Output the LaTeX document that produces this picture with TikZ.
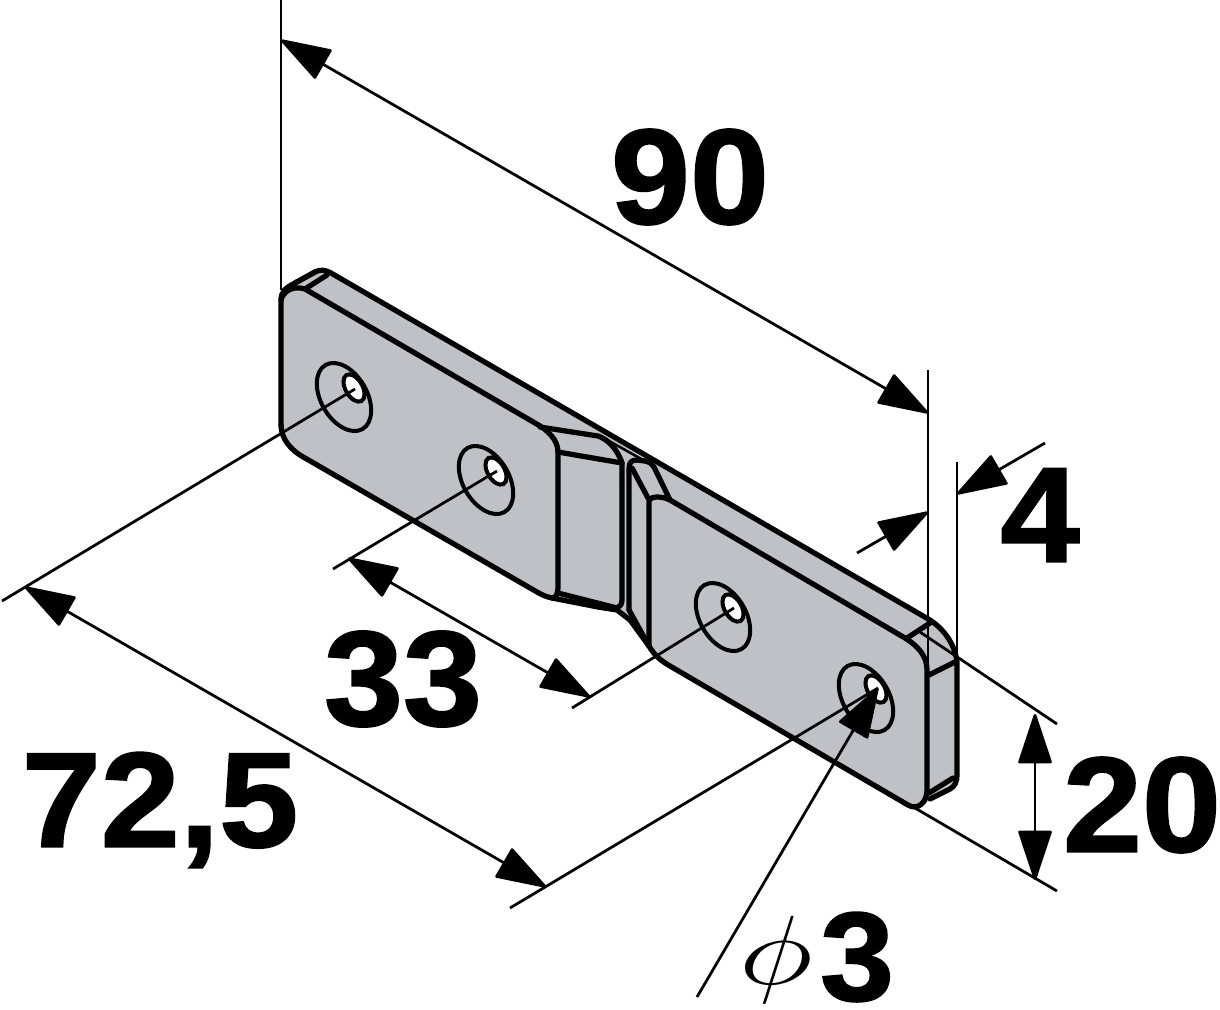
\documentclass[tikz,border=0pt]{standalone}
\usepackage{fontspec}
\setmainfont{Liberation Sans}[BoldFeatures={FakeBold=1.4}]
\usetikzlibrary{arrows.meta}
\definecolor{platefill}{RGB}{190,193,198}
\tikzset{>={Triangle[length=1.05cm,width=0.68cm,round]}}
\tikzset{
  partline/.style={line width=0.105cm,line join=round,line cap=round},
  holeline/.style={line width=0.08cm},
  dimline/.style={line width=0.055cm},
  dimlabel/.style={font=\fontsize{77}{77}\selectfont\bfseries,inner sep=0pt,xscale=1.05},
  holeouter/.style={x radius=0.74cm,y radius=0.46cm,rotate=-60},
  holeinner/.style={x radius=0.3cm,y radius=0.17cm,rotate=-60},
}

\begin{document}
\begin{tikzpicture}[x=0.02cm,y=-0.02cm]
        \useasboundingbox (0,0) rectangle (1220,1009);
        % body
        \fill[platefill] (281,300) .. controls (281,292) and (285,288) .. (295,283) -- (315,272)
          .. controls (320,269) and (326,270) .. (331,273) -- (930,620)
          .. controls (945,630) and (955,645) .. (957,662) -- (957,775)
          .. controls (957,782) and (955,786) .. (950,789) -- (930,799)
          .. controls (925,806) and (918,809) .. (910,806) -- (670,666)
          .. controls (660,660) and (655,656) .. (650,648) -- (630,620) -- (617,610) -- (598,607) -- (552,598)
          .. controls (547,597) and (542,595) .. (537,592) -- (305,458)
          .. controls (290,450) and (281,438) .. (281,425) -- cycle;
        % outer edges
        \draw[partline] (281,425) -- (281,300) .. controls (281,292) and (285,288) .. (295,283) -- (315,272)
          .. controls (320,269) and (326,270) .. (331,273) -- (930,620)
          .. controls (945,630) and (955,645) .. (957,662) -- (957,775)
          .. controls (957,782) and (955,786) .. (950,789) -- (930,799);
        % left plate
        \draw[partline] (281,300) .. controls (283,292) and (292,285) .. (305,289) -- (535,423)
          .. controls (548,430) and (558,440) .. (558,452) -- (558,586)
          .. controls (558,594) and (556,598) .. (552,598)
          .. controls (547,597) and (542,595) .. (537,592) -- (305,458)
          .. controls (290,450) and (281,438) .. (281,425);
        \draw[partline] (295,283) -- (315,272);
        \draw[partline] (305,289) -- (327,275);
        % right plate
        \draw[partline] (649,500) .. controls (652,496) and (662,496) .. (670,500) -- (905,638)
          .. controls (918,646) and (927,656) .. (927,670) -- (927,790)
          .. controls (927,802) and (918,811) .. (908,805) -- (670,666)
          .. controls (660,660) and (655,656) .. (649,646) -- cycle;
        \draw[partline] (907,638) -- (930,623);
        \draw[partline] (929,675) -- (955,662);
        \draw[partline] (929,793) -- (953,778);
        % recess
        \draw[partline] (540,427) -- (598,436) .. controls (607,439) and (617,448) .. (622,463) -- (622,600)
          .. controls (622,604) and (620,607) .. (617,608) -- (558,593);
        \draw[partline] (558,452) -- (622,463);
        \draw[partline] (552,598) -- (598,607) -- (617,610) -- (630,620) -- (649,646);
        \draw[partline] (629,610) -- (649,646);
        \draw[partline] (629,610) -- (629,468) .. controls (629,462) and (632,460) .. (637,460) -- (645,461) .. controls (650,462) and (652,464) .. (654,467) -- (670,500);
        \draw[partline] (632,468) -- (648,498);
        \draw[line width=0.05cm] (602,437) -- (652,465);
        % holes
        \foreach \hx/\hy in {344/397,486/480,723/617,866/698}{
          \draw[holeline] (\hx,\hy) circle[holeouter];
          \draw[holeline,fill=white] (\hx+10,\hy-9) circle[holeinner];
        }
        % dimensions
        \coordinate (wa) at (281,0);
        \coordinate (wb) at (281,290);
        \coordinate (wc) at (928,370);
        \coordinate (wd) at (928,675);
        \coordinate (we) at (957,462);
        \coordinate (wf) at (957,662);
        \draw[dimline] (wa) -- (wb);
        \draw[dimline] (wc) -- (wd);
        \draw[dimline] (we) -- (wf);
        \draw[dimline,<->] (281,40) -- (928,413);
        \draw[dimline,->] (857,553) -- (928,512);
        \draw[dimline,->] (1045,443) -- (957,494);
        \draw[dimline] (917,630) -- (1057,724);
        \draw[dimline] (915,808) -- (1057,891);
        \draw[dimline,<->] (1035,714) -- (1035,880);
        \draw[dimline] (355,389) -- (2,601);
        \draw[dimline] (878,688) -- (510,908);
        \draw[dimline,<->] (25,587) -- (546,887);
        \draw[dimline] (497,471) -- (333,569);
        \draw[dimline] (734,608) -- (572,708);
        \draw[dimline,<->] (348,558) -- (590,697);
        \draw[dimline,->] (697,997) -- (878,688);
        % labels
        \node[dimlabel] (lab90) at (690,177) {90};
        \node[dimlabel] (lab4) at (1040,515) {4};
        \node[dimlabel] (lab20) at (1142,805) {20};
        \node[dimlabel] (lab33) at (403,679) {33};
        \node[dimlabel] (lab72) at (160,810) {72,5};
        \node[dimlabel,font=\fontsize{72}{72}\selectfont\bfseries] (lab3) at (857,957) {3};
        \node[inner sep=0pt,xscale=2.9,yscale=2.25,font=\fontsize{24.88}{30}\selectfont] (labphi) at (776,960) {$\phi$};
    \end{tikzpicture}
\end{document}
